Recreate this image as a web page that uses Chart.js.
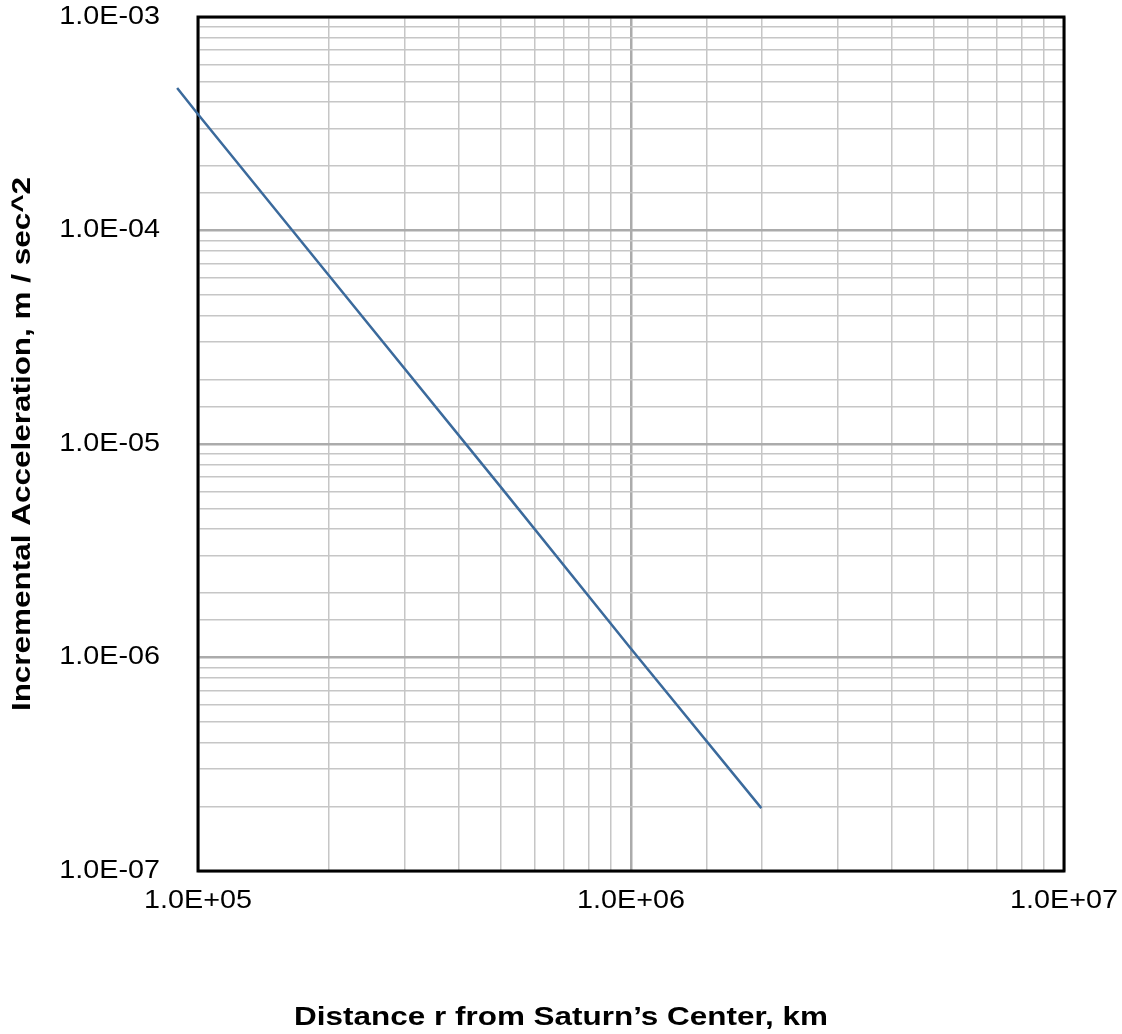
<!DOCTYPE html>
<html>
<head>
<meta charset="utf-8">
<script src="https://cdn.jsdelivr.net/npm/chart.js@4/dist/chart.umd.min.js"></script>
<style>
  body { margin: 0; background: #fff; }
</style>
</head>
<body>
<canvas id="accelChart" width="1122" height="1034"></canvas>
<script>
// values
const distanceKm = [89500, 100000, 200000, 500000, 1000000, 2000000];
const accelMs2 = [4.65e-4, 3.5e-4, 6.2e-5, 6.3e-6, 1.1e-6, 1.97e-7];

const xTickValues = [1e5, 1e6, 1e7];
const xTickLabels = ["1.0E+05", "1.0E+06", "1.0E+07"];
const yTickValues = [1e-7, 1e-6, 1e-5, 1e-4, 1e-3];
const yTickLabels = ["1.0E-07", "1.0E-06", "1.0E-05", "1.0E-04", "1.0E-03"];

const xTitle = "Distance r from Saturn\u2019s Center, km";
const yTitle = "Incremental Acceleration, m / sec^2";

const canvas = document.getElementById("accelChart");
const ctx = canvas.getContext("2d");

// the original text is set a bit wider than Arial, so stretch it sideways
const rawFillText = ctx.fillText;
ctx.fillText = function (text, x, y, maxWidth) {
  const sx = this.font.indexOf("bold") >= 0 ? 1.21 : 1.15;
  this.save();
  this.translate(x, y);
  this.scale(sx, 1);
  if (maxWidth === undefined) rawFillText.call(this, text, 0, 0);
  else rawFillText.call(this, text, 0, 0, maxWidth / sx);
  this.restore();
};

function pickLabel(values, labels, v) {
  for (let i = 0; i < values.length; i++) {
    if (Math.abs(Math.log10(v) - Math.log10(values[i])) < 1e-6) return labels[i];
  }
  return "";
}
function isDecade(v) {
  const l = Math.log10(v);
  return Math.abs(l - Math.round(l)) < 1e-6;
}

const gridColor = (c) => (c.tick && isDecade(c.tick.value) ? "#ababab" : "#c6c6c6");
const gridWidth = (c) => (c.tick && isDecade(c.tick.value) ? 2.5 : 1.5);

const frame = {
  id: "frame",
  beforeDatasetsDraw(chart) {
    const { ctx, chartArea: a } = chart;
    ctx.save();
    ctx.strokeStyle = "#000";
    ctx.lineWidth = 3;
    ctx.strokeRect(a.left, a.top, a.right - a.left, a.bottom - a.top);
    ctx.restore();
  },
};

const fontFamily = "'Liberation Sans', Arial, Helvetica, sans-serif";

let accelChart = new Chart(canvas, {
  type: "line",
  data: {
    datasets: [
      {
        data: distanceKm.map((d, i) => ({ x: d, y: accelMs2[i] })),
        borderColor: "#3b6a9c",
        borderWidth: 2.5,
        pointRadius: 0,
        tension: 0,
        clip: false,
      },
    ],
  },
  options: {
    responsive: false,
    animation: false,
    devicePixelRatio: 1,
    layout: { padding: { left: 58, right: 58, top: 17, bottom: 0 } },
    plugins: {
      legend: { display: false },
      tooltip: { enabled: false },
      title: {
        display: true,
        position: "bottom",
        text: xTitle,
        color: "#000",
        font: { family: fontFamily, size: 26, weight: "bold" },
        padding: { top: 0, bottom: 1 },
      },
    },
    scales: {
      x: {
        type: "logarithmic",
        min: 1e5,
        max: 1e7,
        border: { display: false },
        grid: { color: gridColor, lineWidth: gridWidth, drawTicks: false },
        ticks: {
          autoSkip: false,
          maxRotation: 0,
          padding: 15,
          color: "#000",
          font: { family: fontFamily, size: 25 },
          callback: (v) => pickLabel(xTickValues, xTickLabels, v),
        },
        afterFit: (s) => {
          s.height = 163 - 32.2;
          s.paddingLeft = 0;
          s.paddingRight = 0;
        },
      },
      y: {
        type: "logarithmic",
        min: 1e-7,
        max: 1e-3,
        border: { display: false },
        grid: { color: gridColor, lineWidth: gridWidth, drawTicks: false },
        ticks: {
          autoSkip: false,
          padding: 38,
          color: "#000",
          font: { family: fontFamily, size: 25 },
          callback: (v) => pickLabel(yTickValues, yTickLabels, v),
        },
        title: {
          display: true,
          text: yTitle,
          color: "#000",
          font: { family: fontFamily, size: 26, weight: "bold" },
          padding: { top: -51, bottom: 0 },
        },
        afterFit: (s) => {
          s.width = 140;
          s.paddingTop = 0;
          s.paddingBottom = 0;
        },
      },
    },
  },
  plugins: [frame],
});
</script>
</body>
</html>
